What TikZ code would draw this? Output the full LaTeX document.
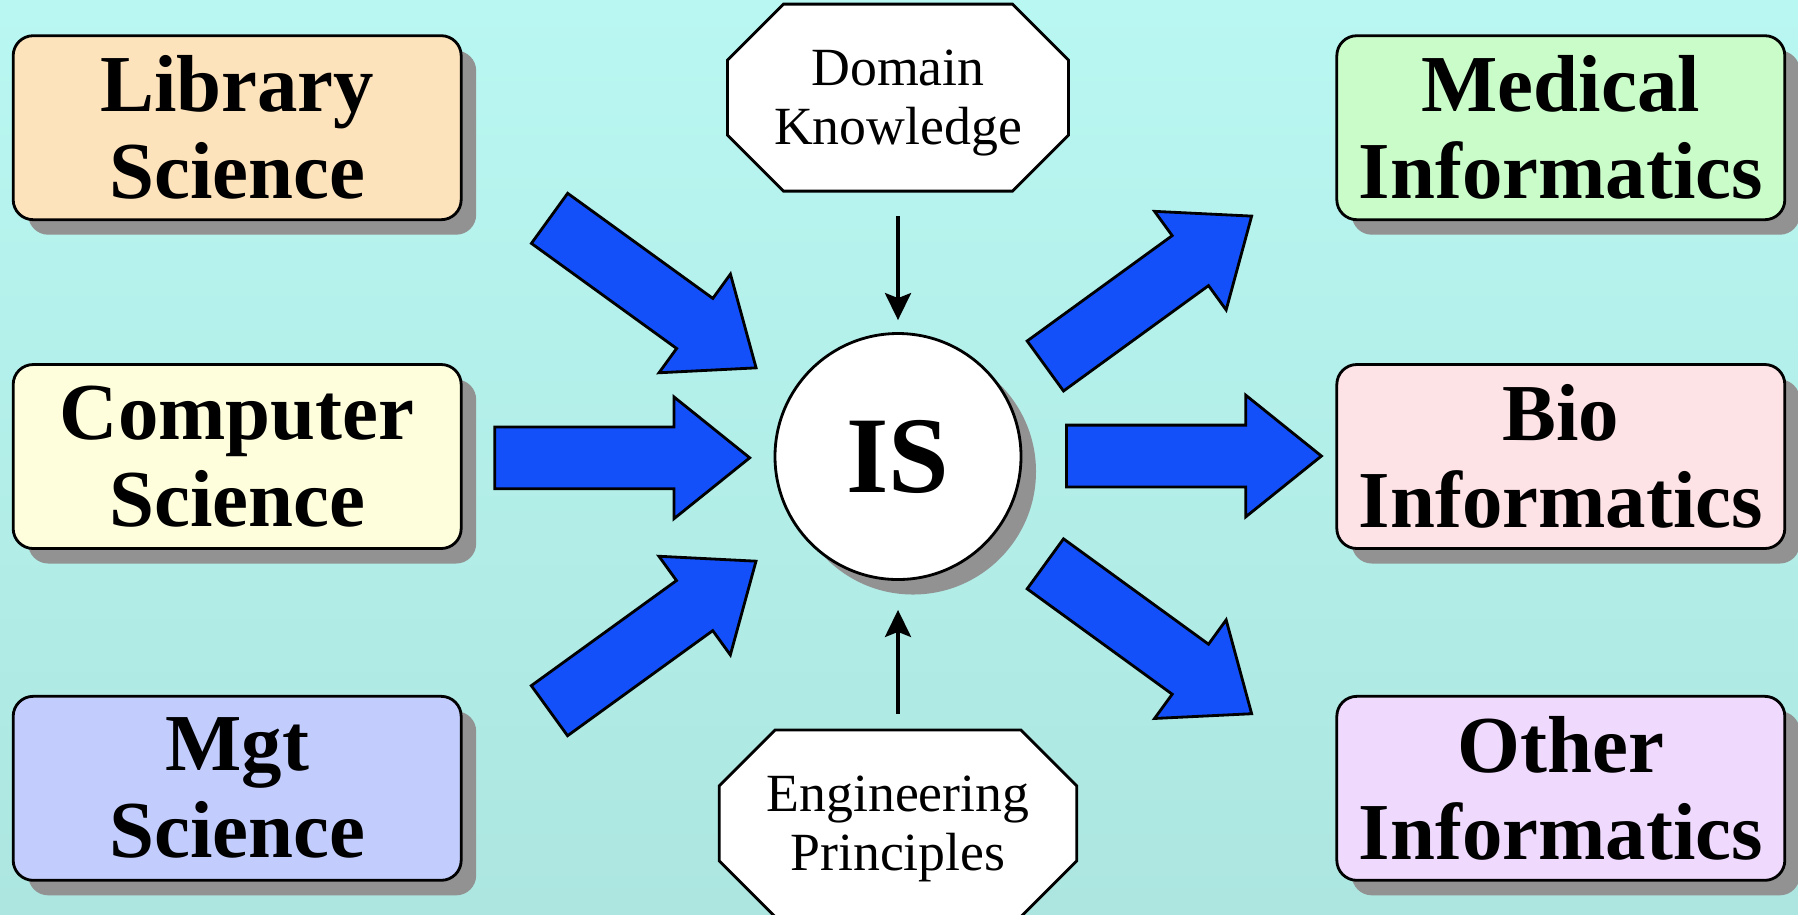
\documentclass[tikz,border=0pt]{standalone}
\usepackage{fontspec}
\setmainfont{Liberation Serif}
\usetikzlibrary{positioning,shapes.arrows,shadows,arrows.meta,backgrounds}
\definecolor{colorBgTop}{HTML}{B9F7F2}
\definecolor{colorBgBot}{HTML}{ADE6E0}
\definecolor{colorLS}{HTML}{FDE3BC}
\definecolor{colorCS}{HTML}{FEFEDD}
\definecolor{colorMS}{HTML}{C3CDFD}
\definecolor{colorMI}{HTML}{CAFCCA}
\definecolor{colorBI}{HTML}{FDE2E6}
\definecolor{colorOI}{HTML}{EFD9FD}
\definecolor{colorArrow}{HTML}{1450FA}
\definecolor{colorShadow}{HTML}{929292}

\begin{document}
\begin{tikzpicture}[>={Stealth[length=2.7mm,width=2.6mm,inset=0.5mm]},every node/.append style={align=center},field/.style={draw, line width=0.8pt, rounded corners=2mm, minimum width=4.48cm, minimum height=1.84cm, font=\fontsize{23}{24.7}\selectfont\bfseries, drop shadow={shadow xshift=1.5mm, shadow yshift=-1.5mm, fill=colorShadow, opacity=1}},source/.style={inner sep=0pt, outer sep=0pt, text depth=0pt, minimum height=1.87cm, font=\fontsize{15.3}{16.8}\selectfont},octa/.style={draw, fill=white, line width=0.8pt},bigarrow/.style={single arrow, draw, fill=colorArrow, line width=0.8pt, minimum height=2.55cm, inner xsep=0pt, inner ysep=2.95mm, single arrow head extend=3mm, single arrow tip angle=77.6, anchor=tail},feed/.style={->, line width=1.1pt},]
    \useasboundingbox (0,0) rectangle (17.98,-9.14);
    \begin{pgfonlayer}{background}
    \fill [top color=colorBgTop, bottom color=colorBgBot] (0,0) rectangle (17.98,-9.14);
    \end{pgfonlayer}
    \node [circle, draw, fill=white, line width=0.8pt, minimum size=2.46cm, font=\fontsize{31}{33}\selectfont\bfseries, drop shadow={shadow xshift=1.5mm, shadow yshift=-1.5mm, fill=colorShadow, opacity=1}] (IS) at (8.98,-4.565) {IS};
    \node [field, left=3.11cm of IS, fill=colorCS] (CS) {Computer\\Science};
    \node [field, above=1.42cm of CS, fill=colorLS] (LS) {Library\\Science};
    \node [field, below=1.45cm of CS, fill=colorMS] (MS) {Mgt\\Science};
    \node [field, right=3.13cm of IS, fill=colorBI] (BI) {Bio\\Informatics};
    \node [field, above=1.42cm of BI, fill=colorMI] (MI) {Medical\\Informatics};
    \node [field, below=1.45cm of BI, fill=colorOI] (OI) {Other\\Informatics};
    \node [source, above=1.41cm of IS, minimum width=3.41cm] (DK) {Domain\\Knowledge};
    \node [source, below=1.49cm of IS, minimum width=3.575cm] (EP) {Engineering\\Principles};
    % octagon frames behind the two text nodes
    \begin{pgfonlayer}{background}
    \foreach \n in {DK,EP}
      \draw [octa] ([xshift=5.6mm]\n.north west) -- ([xshift=-5.6mm]\n.north east) -- ([yshift=-5.6mm]\n.north east) -- ([yshift=5.6mm]\n.south east) -- ([xshift=-5.6mm]\n.south east) -- ([xshift=5.6mm]\n.south west) -- ([yshift=5.6mm]\n.south west) -- ([yshift=-5.6mm]\n.north west) -- cycle;
    \end{pgfonlayer}
    \path[feed] (DK) edge [shorten <=2.5mm, shorten >=1.2mm] (IS);
    \path[feed] (EP) edge [shorten <=1.6mm, shorten >=2.9mm] (IS);
    \node [bigarrow, rotate=-35.9] (aLS) at (5.484,-2.175) {};
    \node [bigarrow] (aCS) at (4.933,-4.578) {};
    \node [bigarrow, rotate=35.9] (aMS) at (5.483,-7.115) {};
    \node [bigarrow, rotate=36.0] (aMI) at (10.442,-3.668) {};
    \node [bigarrow] (aBI) at (10.65,-4.56) {};
    \node [bigarrow, rotate=-36.0] (aOI) at (10.442,-5.63) {};
\end{tikzpicture}
\end{document}
